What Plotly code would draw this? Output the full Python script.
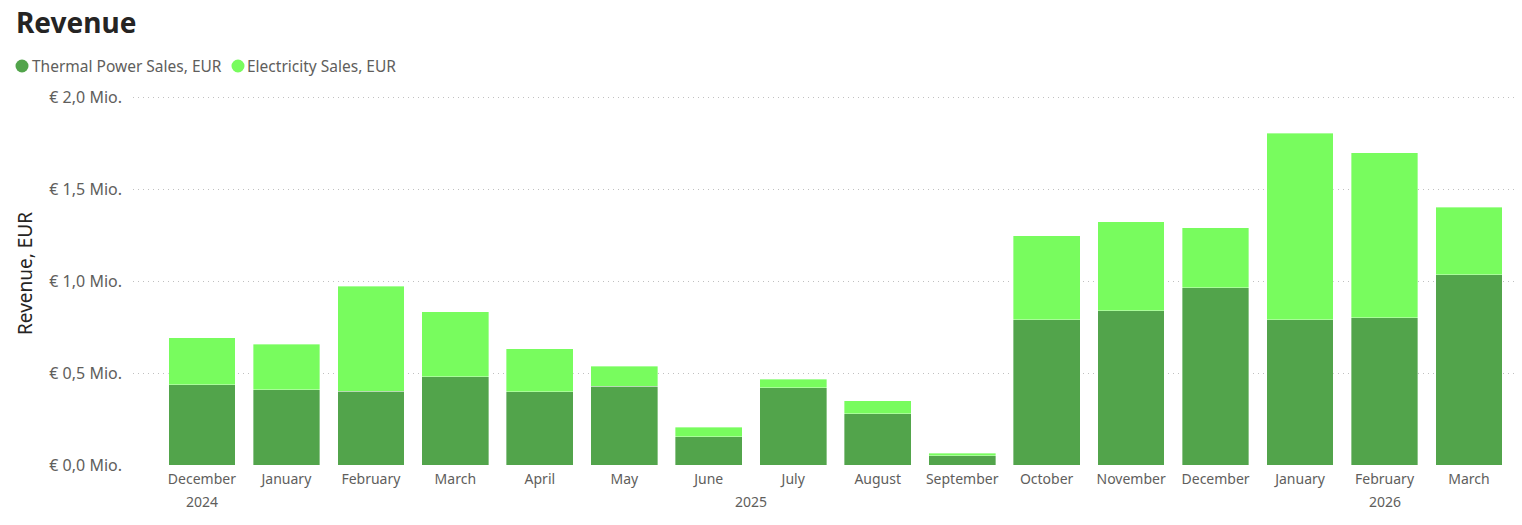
import plotly.graph_objects as go

months = ["December", "January", "February", "March", "April", "May", "June", "July",
          "August", "September", "October", "November", "December", "January", "February", "March"]
years = ["2024", "2025", "2025", "2025", "2025", "2025", "2025", "2025",
         "2025", "2025", "2025", "2025", "2025", "2026", "2026", "2026"]

thermal = [0.436, 0.409, 0.403, 0.480, 0.398, 0.430, 0.154, 0.420,
           0.280, 0.051, 0.790, 0.839, 0.965, 0.790, 0.801, 1.035]
total = [0.692, 0.659, 0.975, 0.834, 0.632, 0.539, 0.205, 0.467,
         0.349, 0.064, 1.250, 1.324, 1.292, 1.808, 1.702, 1.404]
electricity = [round(t - th, 3) for t, th in zip(total, thermal)]

ytick_vals = [0, 0.5, 1.0, 1.5, 2.0]
ytick_text = ["€ 0,0 Mio.", "€ 0,5 Mio.", "€ 1,0 Mio.", "€ 1,5 Mio.", "€ 2,0 Mio."]

series_names = ["Thermal Power Sales, EUR", "Electricity Sales, EUR"]
colors = ["#52A44B", "#78FC5E"]

FONT = "Segoe UI, Noto Sans, Open Sans, sans-serif"
GREY = "#605E5C"
DARK = "#252423"

W, H = 1522, 525
ML, MR, MT, MB = 133, 4, 96, 60
PW, PH = W - ML - MR, H - MT - MB


def px(xp):
    return (xp - ML) / PW


def py(yp):
    return (H - MB - yp) / PH


x = list(range(len(months)))

fig = go.Figure()
for vals, name, col in zip([thermal, electricity], series_names, colors):
    fig.add_trace(go.Bar(x=x, y=vals, name=name, marker_color=col,
                         marker_line=dict(width=0.6, color="rgba(255,255,255,0.6)"),
                         showlegend=False))

annotations = []
shapes = []

# year labels centred under each year's months
groups = {}
for i, yv in enumerate(years):
    groups.setdefault(yv, []).append(i)
for yv, idx in groups.items():
    annotations.append(dict(x=(idx[0] + idx[-1]) / 2, y=0, xref="x", yref="paper",
                            yshift=-25, text=yv, showarrow=False,
                            font=dict(family=FONT, size=14, color=GREY), yanchor="top"))

# title
annotations.append(dict(x=px(14), y=py(22), xref="paper", yref="paper", text="<b>Revenue</b>",
                        showarrow=False, font=dict(family=FONT, size=28, color=DARK),
                        xanchor="left", yanchor="middle"))

# legend
legend_pos = [(22, 30), (238, 245)]
for (cx, tx), name, col in zip(legend_pos, series_names, colors):
    shapes.append(dict(type="circle", xref="paper", yref="paper",
                       xsizemode="pixel", ysizemode="pixel",
                       xanchor=px(cx), yanchor=py(66),
                       x0=-6.5, x1=6.5, y0=-6.5, y1=6.5,
                       fillcolor=col, line=dict(width=0)))
    annotations.append(dict(x=px(tx), y=py(66), xref="paper", yref="paper", text=name,
                            showarrow=False, font=dict(family=FONT, size=15.5, color=GREY),
                            xanchor="left", yanchor="middle"))

# y axis title
annotations.append(dict(x=px(25), y=py(274), xref="paper", yref="paper", text="Revenue, EUR",
                        textangle=-90, showarrow=False,
                        font=dict(family=FONT, size=19, color=DARK),
                        xanchor="center", yanchor="middle"))

fig.update_layout(
    width=W, height=H,
    barmode="stack", bargap=0.21,
    paper_bgcolor="white", plot_bgcolor="white",
    margin=dict(l=ML, r=MR, t=MT, b=MB, autoexpand=False),
    font=dict(family=FONT, size=14, color=GREY),
    annotations=annotations, shapes=shapes,
    showlegend=False,
)
fig.update_xaxes(
    tickmode="array", tickvals=x, ticktext=months,
    range=[-0.816, 15.58], showgrid=False, zeroline=False, showline=False,
    ticks="", tickfont=dict(family=FONT, size=14, color=GREY), ticklabelstandoff=4,
)
fig.update_yaxes(
    range=[0, 2.01], tickmode="array", tickvals=ytick_vals, ticktext=ytick_text,
    showgrid=True, gridcolor="#C0C0C0", griddash="1px,4px", gridwidth=1,
    zeroline=False, showline=False, ticks="", ticklabelstandoff=10,
    tickfont=dict(family=FONT, size=16, color=GREY),
)

fig.write_html("out.html")
